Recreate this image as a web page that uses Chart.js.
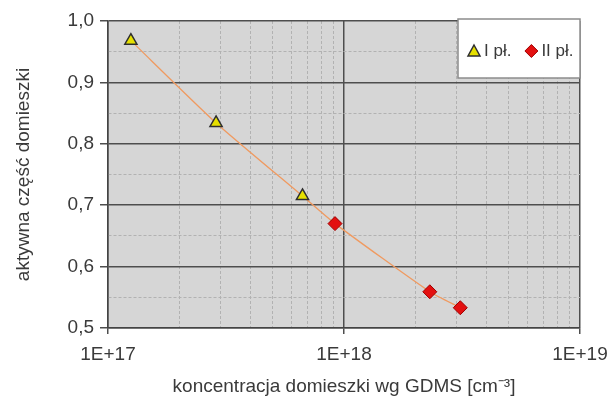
<!DOCTYPE html>
<html>
<head>
<meta charset="utf-8">
<script src="https://cdn.jsdelivr.net/npm/chart.js@4/dist/chart.umd.min.js"></script>
<style>
  html, body { margin: 0; padding: 0; background: #ffffff; }
  #wrap { width: 610px; height: 398px; position: relative; }
</style>
</head>
<body>
<div id="wrap"><canvas id="c" width="610" height="398"></canvas></div>
<script>
// Measured series: dopant concentration (GDMS) vs. active fraction
const seriesNames = ['I pł.', 'II pł.'];
const conc1   = [1.25e17, 2.87e17, 6.67e17];
const active1 = [0.968, 0.834, 0.715];
const conc2   = [9.16e17, 2.31e18, 3.11e18];
const active2 = [0.670, 0.559, 0.533];

// Axis ticks
const xDecades = [1e17, 1e18, 1e19];
const xDecadeLabels = ['1E+17', '1E+18', '1E+19'];
const yMajor = [0.5, 0.6, 0.7, 0.8, 0.9, 1.0];
const yMajorLabels = ['0,5', '0,6', '0,7', '0,8', '0,9', '1,0'];
const yMinor = [0.55, 0.65, 0.75, 0.85, 0.95];

const FONT = "'Liberation Sans', Arial, sans-serif";
const TEXT = '#3a3a3a';

// grid positions on the log axis: 1..9 in every decade, plus the last decade
const xGrid = [];
for (let d = 0; d < xDecades.length - 1; d++) {
  for (let m = 1; m <= 9; m++) xGrid.push(m * xDecades[d]);
}
xGrid.push(xDecades[xDecades.length - 1]);

const isXMajor = v => Math.abs(Math.log10(v) - Math.round(Math.log10(v))) < 1e-9;
const isYMajor = v => yMajor.some(m => Math.abs(m - v) < 1e-9);

const pts1 = conc1.map((x, i) => ({ x, y: active1[i] }));
const pts2 = conc2.map((x, i) => ({ x, y: active2[i] }));
const trend = pts1.concat(pts2).sort((a, b) => a.x - b.x);

const plotBg = {
  id: 'plotBg',
  beforeDraw(chart) {
    const { ctx, chartArea: a } = chart;
    ctx.save();
    ctx.fillStyle = '#d6d6d6';
    ctx.fillRect(a.left, a.top, a.right - a.left, a.bottom - a.top);
    ctx.restore();
  }
};

// legend box drawn inside the plot, top-right corner
const insideLegend = {
  id: 'insideLegend',
  afterDraw(chart) {
    const { ctx, chartArea: a } = chart;
    const bx = a.right - 122, by = a.top - 2, bw = 122, bh = 59;
    ctx.save();
    ctx.fillStyle = '#ffffff';
    ctx.fillRect(bx, by, bw, bh);
    ctx.strokeStyle = '#8c8c8c';
    ctx.lineWidth = 1.5;
    ctx.strokeRect(bx, by, bw, bh);
    ctx.font = '17px ' + FONT;
    ctx.textBaseline = 'middle';
    let x = bx + 16;
    const y = by + 32;
    [0, 1].forEach(i => {
      const ds = chart.data.datasets[i];
      ctx.fillStyle = ds.pointBackgroundColor;
      ctx.strokeStyle = ds.pointBorderColor;
      ctx.lineWidth = ds.pointBorderWidth;
      ctx.beginPath();
      if (ds.pointStyle === 'triangle') {
        ctx.moveTo(x, y - 6); ctx.lineTo(x + 6, y + 5); ctx.lineTo(x - 6, y + 5); ctx.closePath();
      } else {
        ctx.moveTo(x, y - 6.5); ctx.lineTo(x + 6.5, y); ctx.lineTo(x, y + 6.5); ctx.lineTo(x - 6.5, y); ctx.closePath();
      }
      ctx.fill(); ctx.stroke();
      ctx.fillStyle = TEXT;
      ctx.fillText(seriesNames[i], x + 10, y);
      x += 10 + ctx.measureText(seriesNames[i]).width + 20;
    });
    ctx.restore();
  }
};

new Chart(document.getElementById('c'), {
  type: 'scatter',
  data: {
    datasets: [
      {
        label: seriesNames[0], data: pts1, pointStyle: 'triangle', pointRadius: 7,
        pointBackgroundColor: '#e6e000', pointBorderColor: '#2e2e2e', pointBorderWidth: 1.5,
        showLine: false, order: 0
      },
      {
        label: seriesNames[1], data: pts2, pointStyle: 'rectRot', pointRadius: 7,
        pointBackgroundColor: '#e31010', pointBorderColor: '#a00000', pointBorderWidth: 1,
        showLine: false, order: 0
      },
      {
        label: 'trend', data: trend, showLine: true, pointRadius: 0,
        borderColor: '#f09a60', borderWidth: 1.3, tension: 0.2, order: 1
      }
    ]
  },
  options: {
    responsive: false,
    animation: false,
    devicePixelRatio: 1,
    layout: { padding: { top: 21, right: 30, left: 0, bottom: 0 } },
    plugins: { legend: { display: false }, tooltip: { enabled: false } },
    scales: {
      x: {
        type: 'logarithmic',
        min: xDecades[0], max: xDecades[xDecades.length - 1],
        afterBuildTicks: s => { s.ticks = xGrid.map(v => ({ value: v })); },
        afterFit: s => { s.height = 70; s.paddingLeft = 0; s.paddingRight = 0; },
        ticks: {
          autoSkip: false, maxRotation: 0, padding: 9,
          color: TEXT, font: { family: FONT, size: 19 },
          callback: v => {
            const i = xDecades.findIndex(d => Math.abs(d - v) / d < 1e-9);
            return i >= 0 ? xDecadeLabels[i] : '';
          }
        },
        grid: {
          color: c => (c.tick && isXMajor(c.tick.value)) ? '#4e4e4e' : '#b2b2b2',
          lineWidth: c => (c.tick && isXMajor(c.tick.value)) ? 1.5 : 1,
          tickColor: c => (c.tick && isXMajor(c.tick.value)) ? '#4e4e4e' : 'rgba(0,0,0,0)',
          tickLength: 6
        },
        border: {
          display: true, color: '#444444', width: 1.5,
          dash: c => (c.tick && !isXMajor(c.tick.value)) ? [3, 2] : []
        },
        title: {
          display: true, text: 'koncentracja domieszki wg GDMS [cm⁻³]',
          color: TEXT, font: { family: FONT, size: 19 }, padding: { top: 2, bottom: 0 }
        }
      },
      y: {
        min: yMajor[0], max: yMajor[yMajor.length - 1],
        afterBuildTicks: s => {
          s.ticks = yMajor.concat(yMinor).sort((a, b) => a - b).map(v => ({ value: v }));
        },
        afterFit: s => { s.width = 108; s.paddingTop = 0; s.paddingBottom = 0; },
        ticks: {
          autoSkip: false, padding: 6,
          color: TEXT, font: { family: FONT, size: 19 },
          callback: v => {
            const i = yMajor.findIndex(m => Math.abs(m - v) < 1e-9);
            return i >= 0 ? yMajorLabels[i] : '';
          }
        },
        grid: {
          color: c => (c.tick && isYMajor(c.tick.value)) ? '#4e4e4e' : '#b2b2b2',
          lineWidth: c => (c.tick && isYMajor(c.tick.value)) ? 1.5 : 1,
          tickColor: c => (c.tick && isYMajor(c.tick.value)) ? '#4e4e4e' : 'rgba(0,0,0,0)',
          tickLength: 8
        },
        border: {
          display: true, color: '#444444', width: 1.5,
          dash: c => (c.tick && !isYMajor(c.tick.value)) ? [3, 2] : []
        },
        title: {
          display: true, text: 'aktywna część domieszki',
          color: TEXT, font: { family: FONT, size: 19 }, padding: { top: 12, bottom: 0 }
        }
      }
    }
  },
  plugins: [plotBg, insideLegend]
});
</script>
</body>
</html>
